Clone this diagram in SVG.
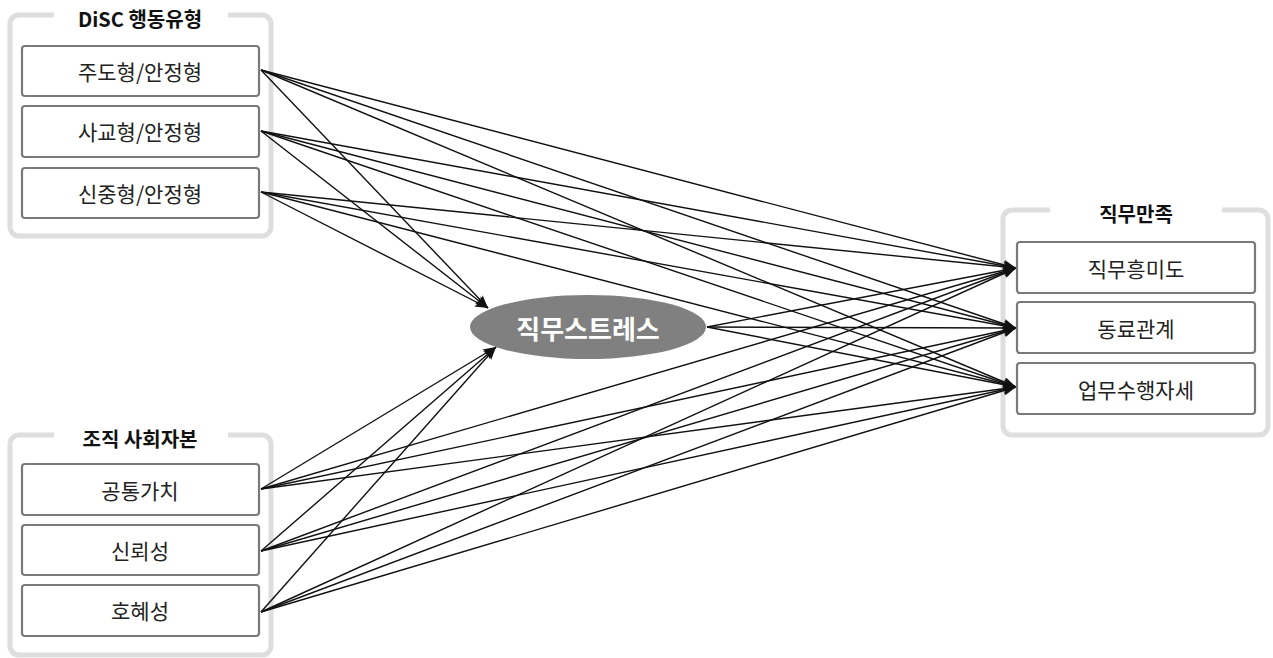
<svg xmlns="http://www.w3.org/2000/svg" width="1273" height="658" viewBox="0 0 1273 658">
<style>
.grp{fill:none;stroke:#dedede;stroke-width:5}
.gap{stroke:#fff;stroke-width:9}
.box{fill:#fff;stroke:#7a7a7a;stroke-width:2.2}
.t{font-family:"Noto Sans CJK KR","Noto Sans",sans-serif;font-size:21px;fill:#222;text-anchor:middle;dominant-baseline:central}
.h{font-family:"Noto Sans CJK KR","Noto Sans",sans-serif;font-size:20px;font-weight:bold;fill:#111;text-anchor:middle;dominant-baseline:central}
.e{stroke:#111;stroke-width:1.4;fill:none;marker-end:url(#ah)}
</style>
<defs>
<marker id="ah" markerUnits="userSpaceOnUse" markerWidth="14" markerHeight="10" refX="13" refY="5" orient="auto">
<path d="M0,0 L13,5 L0,10 L3,5 Z" fill="#111"/>
</marker>
</defs>
<rect width="1273" height="658" fill="#fff"/>

<g id="group-disc">
<rect class="grp" x="10" y="15" width="261" height="221" rx="9"/>
<line class="gap" x1="54" y1="15" x2="228" y2="15"/>
<text class="h" x="140" y="18">DiSC 행동유형</text>
</g>
<g id="group-social">
<rect class="grp" x="10" y="435" width="261" height="220" rx="9"/>
<line class="gap" x1="54" y1="435" x2="228" y2="435"/>
<text class="h" x="140" y="438">조직 사회자본</text>
</g>
<g id="group-satisfaction">
<rect class="grp" x="1003" y="210" width="265" height="225" rx="9"/>
<line class="gap" x1="1050" y1="210" x2="1222" y2="210"/>
<text class="h" x="1136" y="213">직무만족</text>
</g>

<g id="connectors">
<line class="e" x1="261" y1="70" x2="488" y2="308"/>
<line class="e" x1="261" y1="131" x2="488" y2="308"/>
<line class="e" x1="261" y1="192" x2="488" y2="308"/>
<line class="e" x1="261" y1="489" x2="496" y2="347"/>
<line class="e" x1="261" y1="551" x2="496" y2="347"/>
<line class="e" x1="261" y1="612" x2="496" y2="347"/>

<line class="e" x1="261" y1="70" x2="1016" y2="268"/>
<line class="e" x1="261" y1="70" x2="1016" y2="328"/>
<line class="e" x1="261" y1="70" x2="1016" y2="387"/>
<line class="e" x1="261" y1="131" x2="1016" y2="268"/>
<line class="e" x1="261" y1="131" x2="1016" y2="328"/>
<line class="e" x1="261" y1="131" x2="1016" y2="387"/>
<line class="e" x1="261" y1="192" x2="1016" y2="268"/>
<line class="e" x1="261" y1="192" x2="1016" y2="328"/>
<line class="e" x1="261" y1="192" x2="1016" y2="387"/>

<line class="e" x1="261" y1="489" x2="1016" y2="268"/>
<line class="e" x1="261" y1="489" x2="1016" y2="328"/>
<line class="e" x1="261" y1="489" x2="1016" y2="387"/>
<line class="e" x1="261" y1="551" x2="1016" y2="268"/>
<line class="e" x1="261" y1="551" x2="1016" y2="328"/>
<line class="e" x1="261" y1="551" x2="1016" y2="387"/>
<line class="e" x1="261" y1="612" x2="1016" y2="268"/>
<line class="e" x1="261" y1="612" x2="1016" y2="328"/>
<line class="e" x1="261" y1="612" x2="1016" y2="387"/>

<line class="e" x1="707" y1="327" x2="1016" y2="268"/>
<line class="e" x1="707" y1="327" x2="1016" y2="328"/>
<line class="e" x1="707" y1="327" x2="1016" y2="387"/>
</g>

<g id="node-d1"><rect class="box" x="22" y="46" width="237" height="50" rx="3"/><text class="t" x="140" y="71">주도형/안정형</text></g>
<g id="node-d2"><rect class="box" x="22" y="106" width="237" height="51" rx="3"/><text class="t" x="140" y="131">사교형/안정형</text></g>
<g id="node-d3"><rect class="box" x="22" y="168" width="237" height="50" rx="3"/><text class="t" x="140" y="193">신중형/안정형</text></g>

<g id="node-s1"><rect class="box" x="22" y="464" width="237" height="51" rx="3"/><text class="t" x="140" y="490">공통가치</text></g>
<g id="node-s2"><rect class="box" x="22" y="525" width="237" height="50" rx="3"/><text class="t" x="140" y="550">신뢰성</text></g>
<g id="node-s3"><rect class="box" x="22" y="585" width="237" height="51" rx="3"/><text class="t" x="140" y="610">호혜성</text></g>

<g id="node-stress">
<ellipse cx="588" cy="327" rx="118" ry="32" fill="#808080"/>
<text x="588" y="327" font-family="'Noto Sans CJK KR','Noto Sans',sans-serif" font-size="26" font-weight="bold" fill="#fff" text-anchor="middle" dominant-baseline="central">직무스트레스</text>
</g>

<g id="node-r1"><rect class="box" x="1017" y="242" width="238" height="51" rx="3"/><text class="t" x="1136" y="268">직무흥미도</text></g>
<g id="node-r2"><rect class="box" x="1017" y="302" width="238" height="51" rx="3"/><text class="t" x="1136" y="328">동료관계</text></g>
<g id="node-r3"><rect class="box" x="1017" y="363" width="238" height="51" rx="3"/><text class="t" x="1136" y="389">업무수행자세</text></g>
</svg>
